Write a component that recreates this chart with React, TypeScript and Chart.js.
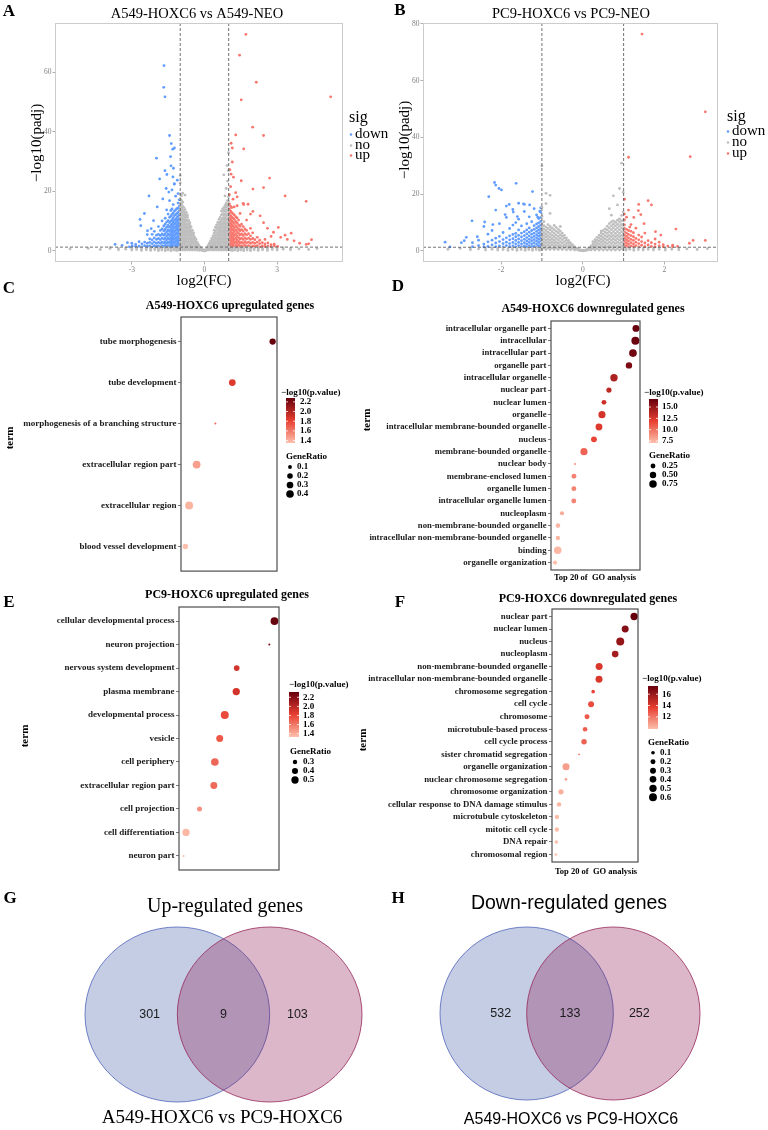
import React, { useEffect, useRef } from "react";
import { Chart, registerables } from "chart.js";

Chart.register(...registerables);

const SERIF = "'Liberation Serif', 'Times New Roman', serif";
const SANS = "'Liberation Sans', Arial, sans-serif";

const COL_DOWN = "#619CFF";
const COL_NO = "#BEBEBE";
const COL_UP = "#F8766D";

const fcCutoffs = [-1, 1];
const padjCutoff = 1.3;
const sigLevels = ["down", "no", "up"];

// ---------------- Panel A (volcano) ----------------
const aTitle = "A549-HOXC6 vs A549-NEO";
const aXTicks = [-3, 0, 3];
const aYTicks = [0, 20, 40, 60];
// columns: [log2FC, -log10(padj) values...]
const aNoCols = [
  [-1.0, 0.4, 1.6, 2.8, 4.0, 5.2, 6.4, 7.6, 8.8, 10.0, 11.2, 12.4, 13.6, 14.8, 16.1, 17.6, 19.2, 22.9, 25.4],
  [-0.95, 1.0, 2.2, 3.4, 4.6, 5.8, 7.0, 8.2, 9.4, 10.6, 11.8, 13.0, 14.3, 15.7, 17.0, 18.6],
  [-0.9, 0.3, 1.5, 2.7, 3.9, 5.1, 6.3, 7.5, 8.7, 9.9, 11.1, 12.4, 13.7, 15.0, 16.4, 19.4],
  [-0.85, 0.9, 2.1, 3.3, 4.5, 5.7, 6.9, 8.1, 9.3, 10.5, 11.8, 13.1, 14.6],
  [-0.8, 0.3, 1.5, 2.7, 3.9, 5.1, 6.3, 7.5, 8.7, 9.9, 11.2, 12.5, 13.9, 18.8],
  [-0.75, 0.8, 2.0, 3.2, 4.4, 5.6, 6.8, 8.0, 9.2, 10.5, 11.8, 13.0],
  [-0.7, 0.3, 1.5, 2.7, 3.9, 5.1, 6.3, 7.5, 8.7, 10.0, 11.3, 12.1],
  [-0.65, 0.8, 2.0, 3.2, 4.4, 5.6, 6.8, 8.0, 9.2, 10.4],
  [-0.6, 0.3, 1.5, 2.7, 3.9, 5.1, 6.3, 7.5, 8.6, 9.5],
  [-0.55, 0.8, 2.0, 3.2, 4.4, 5.6, 6.8, 8.1],
  [-0.5, 0.3, 1.4, 2.6, 3.8, 5.0, 6.2, 7.0],
  [-0.45, 0.8, 1.9, 3.1, 4.3, 5.4, 6.1],
  [-0.4, 0.3, 1.4, 2.5, 3.6, 4.6],
  [-0.35, 0.8, 1.9, 3.0, 3.9],
  [-0.3, 0.3, 1.3, 2.3, 3.0],
  [-0.25, 0.7, 1.6, 2.2],
  [-0.2, 0.2, 1.0, 1.5],
  [-0.15, 0.5, 1.0],
  [-0.1, 0.2, 0.6],
  [-0.05, 0.1, 0.4],
  [0.0, 0.0, 0.3],
  [0.05, 0.1, 0.4],
  [0.1, 0.3, 0.8],
  [0.15, 0.5, 1.3, 1.8],
  [0.2, 0.3, 1.1, 1.9, 2.6],
  [0.25, 0.7, 1.6, 2.5, 3.4],
  [0.3, 0.3, 1.2, 2.1, 3.1, 4.2],
  [0.35, 0.8, 1.8, 2.8, 3.9, 5.1],
  [0.4, 0.3, 1.3, 2.4, 3.5, 4.7, 6.0, 7.0],
  [0.45, 0.8, 1.9, 3.0, 4.2, 5.4, 6.7, 8.0],
  [0.5, 0.3, 1.4, 2.6, 3.8, 5.0, 6.2, 7.5, 8.8],
  [0.55, 0.8, 2.0, 3.2, 4.4, 5.6, 6.9, 8.2, 9.6],
  [0.6, 0.3, 1.5, 2.7, 3.9, 5.1, 6.4, 7.7, 9.0, 10.6],
  [0.65, 0.8, 2.0, 3.2, 4.4, 5.7, 7.0, 8.3, 9.7, 11.3],
  [0.7, 0.3, 1.5, 2.7, 3.9, 5.1, 6.4, 7.7, 9.0, 10.4, 12.1, 13.4],
  [0.75, 0.8, 2.0, 3.2, 4.4, 5.7, 7.0, 8.3, 9.6, 11.0, 12.5, 14.1],
  [0.8, 0.3, 1.5, 2.7, 3.9, 5.1, 6.4, 7.7, 9.0, 10.4, 11.8, 13.3, 14.6, 25.6],
  [0.85, 0.8, 2.0, 3.2, 4.4, 5.7, 7.0, 8.3, 9.6, 11.0, 12.4, 13.9, 15.3, 18.5],
  [0.9, 0.3, 1.5, 2.7, 3.9, 5.1, 6.4, 7.7, 9.0, 10.4, 11.8, 13.2, 14.7, 16.0, 21.0],
  [0.93, 28.7],
  [0.95, 0.8, 2.0, 3.2, 4.4, 5.7, 7.0, 8.3, 9.6, 11.0, 12.4, 13.9, 15.4, 16.9, 23.5],
  [0.99, 0.4, 1.6, 2.8, 4.0, 5.3, 6.6, 7.9, 9.2, 10.6, 12.0, 13.5, 15.0, 16.6, 18.2, 27.0, 33.0],
  [-5.55, 0.7], [-4.8, 0.9], [-4.3, 0.5], [-3.9, 0.8, 1.1], [-3.55, 0.4, 0.9], [-3.25, 0.6, 1.0],
  [-3.0, 0.3, 0.8], [-2.8, 0.5, 1.0], [-2.6, 0.2, 0.7, 1.1], [-2.4, 0.4, 0.9], [-2.22, 0.2, 0.6, 1.1],
  [-2.05, 0.4, 0.9], [-1.9, 0.1, 0.6, 1.0], [-1.76, 0.3, 0.8, 1.2], [-1.62, 0.1, 0.5, 1.0],
  [-1.5, 0.3, 0.7, 1.1], [-1.38, 0.1, 0.5, 0.9], [-1.26, 0.3, 0.7, 1.1], [-1.15, 0.1, 0.5, 0.9],
  [-1.06, 0.3, 0.7, 1.1], [1.06, 0.3, 0.7, 1.1], [1.15, 0.1, 0.5, 0.9], [1.26, 0.3, 0.7, 1.1],
  [1.38, 0.1, 0.5, 0.9], [1.5, 0.3, 0.7, 1.1], [1.62, 0.1, 0.5, 1.0], [1.76, 0.3, 0.8, 1.2],
  [1.9, 0.1, 0.6, 1.0], [2.05, 0.4, 0.9], [2.22, 0.2, 0.6, 1.1], [2.4, 0.4, 0.9], [2.6, 0.2, 0.7, 1.1],
  [2.8, 0.5, 1.0], [3.0, 0.3, 0.8], [3.25, 0.6, 1.0], [3.55, 0.4, 0.9], [3.9, 0.7], [4.3, 0.5], [4.65, 0.8],
];
const aDownCols = [
  [-1.04, 1.5, 2.6, 3.7, 4.9, 6.0, 7.2, 8.4, 9.6, 10.8, 12.1, 13.5, 15.0, 17.2],
  [-1.09, 1.9, 3.1, 4.3, 5.5, 6.7, 7.9, 9.1, 10.4, 11.6, 13.0, 14.4, 16.1, 19.3],
  [-1.14, 1.4, 2.5, 3.6, 4.8, 6.1, 7.3, 8.6, 9.9, 11.2, 12.6, 14.2],
  [-1.19, 2.0, 3.2, 4.4, 5.7, 6.9, 8.1, 9.4, 10.7, 12.2, 13.8, 18.4],
  [-1.24, 1.5, 2.7, 3.9, 5.1, 6.4, 7.7, 9.0, 10.3, 11.9, 13.4, 22.5],
  [-1.29, 1.9, 3.1, 4.3, 5.6, 6.9, 8.3, 9.7, 11.2, 12.8, 15.6],
  [-1.34, 1.4, 2.6, 3.8, 5.0, 6.3, 7.6, 9.0, 10.5, 12.3, 14.1, 20.5],
  [-1.39, 2.0, 3.2, 4.4, 5.8, 7.1, 8.5, 10.0, 11.7, 13.6],
  [-1.44, 1.5, 2.7, 3.9, 5.2, 6.6, 8.0, 9.5, 11.3, 16.9],
  [-1.5, 1.8, 3.0, 4.3, 5.7, 7.1, 8.6, 10.2, 12.4],
  [-1.56, 1.4, 2.6, 3.8, 5.1, 6.5, 8.0, 9.7, 13.8],
  [-1.62, 1.9, 3.1, 4.4, 5.8, 7.3, 9.0, 11.0],
  [-1.68, 1.5, 2.7, 4.0, 5.3, 6.8, 8.4],
  [-1.75, 1.8, 3.0, 4.3, 5.7, 7.4, 10.1],
  [-1.82, 1.4, 2.6, 3.8, 5.2, 6.9],
  [-1.9, 1.7, 2.9, 4.2, 5.6, 8.2],
  [-1.98, 1.5, 2.6, 3.9, 5.3],
  [-2.07, 1.8, 3.0, 4.4, 6.6],
  [-2.16, 1.4, 2.5, 3.7, 5.6],
  [-2.26, 1.7, 2.9, 4.1],
  [-2.36, 1.5, 2.6, 5.5],
  [-2.47, 1.8, 3.0],
  [-2.58, 1.4, 2.4],
  [-2.7, 1.6, 3.1],
  [-2.84, 1.5, 2.2],
  [-2.98, 1.7],
  [-3.1, 1.4],
];
const aDownPoints = [
  [-1.67, 62.3], [-1.68, 55.0], [-1.63, 51.8], [-1.44, 38.8], [-1.37, 36.1], [-1.31, 34.2], [-1.24, 34.6],
  [-1.98, 31.2], [-1.4, 31.7], [-1.38, 28.6], [-1.63, 27.0], [-1.28, 27.8], [-1.55, 25.7], [-1.3, 24.9],
  [-1.85, 24.2], [-1.25, 22.5], [-1.47, 19.8], [-2.29, 18.5], [-2.48, 12.6], [-2.66, 10.6], [-2.63, 8.5],
  [-3.18, 2.8], [-3.69, 2.2], [-2.2, 7.5], [-1.72, 17.5], [-1.58, 21.0], [-1.12, 23.8], [-1.95, 14.8],
  [-2.1, 10.2], [-2.35, 6.8], [-3.0, 2.6], [-3.4, 1.9],
];
const aUpCols = [
  [1.03, 1.5, 2.6, 3.8, 5.0, 6.2, 7.4, 8.6, 9.9, 11.2, 12.6, 14.1, 15.8, 18.9],
  [1.08, 1.9, 3.1, 4.3, 5.5, 6.7, 8.0, 9.3, 10.6, 11.9, 13.4, 15.0, 21.6],
  [1.13, 1.4, 2.5, 3.7, 4.9, 6.1, 7.4, 8.7, 10.0, 11.4, 12.9, 14.6],
  [1.18, 2.0, 3.2, 4.4, 5.7, 7.0, 8.3, 9.6, 11.0, 12.5, 17.4],
  [1.23, 1.5, 2.7, 3.9, 5.2, 6.5, 7.8, 9.2, 10.6, 12.1, 14.8],
  [1.29, 1.9, 3.1, 4.4, 5.7, 7.1, 8.5, 9.9, 11.5, 19.6],
  [1.35, 1.4, 2.6, 3.8, 5.1, 6.5, 7.9, 9.4, 11.1, 15.2],
  [1.41, 2.0, 3.2, 4.5, 5.9, 7.3, 8.8, 10.4],
  [1.47, 1.5, 2.7, 4.0, 5.4, 6.8, 8.3, 12.6],
  [1.53, 1.8, 3.0, 4.3, 5.7, 7.2, 9.0],
  [1.6, 1.4, 2.6, 3.9, 5.2, 6.7, 8.2, 16.0],
  [1.67, 1.9, 3.1, 4.4, 5.8, 7.4],
  [1.74, 1.5, 2.7, 4.0, 5.4, 6.9, 10.4],
  [1.82, 1.8, 3.0, 4.3, 5.8],
  [1.9, 1.4, 2.6, 3.9, 5.1, 7.6],
  [1.99, 1.7, 2.9, 4.2, 6.1],
  [2.08, 1.5, 2.6, 3.8],
  [2.18, 1.8, 3.0, 4.6],
  [2.28, 1.4, 2.5, 3.6],
  [2.39, 1.7, 2.8],
  [2.5, 1.5, 2.4, 3.9],
  [2.62, 1.6, 2.7],
  [2.75, 1.4, 2.1],
  [2.88, 1.7, 2.3],
  [3.02, 1.5],
];
const aUpPoints = [
  [1.71, 72.8], [1.45, 65.8], [2.14, 56.7], [1.52, 50.8], [5.21, 51.8], [1.99, 41.6], [2.44, 38.8],
  [1.29, 39.0], [1.1, 36.2], [1.15, 34.6], [1.62, 34.3], [1.15, 29.9], [1.05, 27.3], [1.1, 25.8],
  [1.2, 24.8], [1.52, 23.6], [2.69, 24.5], [2.0, 20.8], [2.44, 21.3], [3.33, 18.5], [4.2, 16.7],
  [2.0, 13.3], [2.44, 9.5], [2.85, 6.3], [3.33, 5.3], [3.58, 6.0], [3.7, 3.4], [3.93, 2.6], [4.2, 2.2],
  [4.42, 3.8], [4.3, 2.4], [3.42, 3.9], [3.15, 4.6], [1.35, 18.2], [1.62, 15.6], [1.8, 15.7],
  [2.3, 11.8], [2.6, 7.6], [1.9, 12.4], [3.05, 7.9], [2.75, 4.9],
];

// ---------------- Panel B (volcano) ----------------
const bTitle = "PC9-HOXC6 vs PC9-NEO";
const bXTicks = [-2, 0, 2];
const bYTicks = [0, 20, 40, 60, 80];
const bNoCols = [
  [-1.0, 0.5, 1.6, 2.7, 3.8, 4.9, 6.0, 7.1, 8.3, 9.6, 12.2, 15.4, 30.0],
  [-0.95, 1.0, 2.1, 3.2, 4.3, 5.4, 6.5, 7.7, 8.9, 10.3],
  [-0.9, 0.5, 1.6, 2.7, 3.8, 4.9, 6.0, 7.2, 8.4, 16.7, 20.3],
  [-0.85, 1.0, 2.1, 3.2, 4.3, 5.4, 6.6, 7.9, 9.3],
  [-0.8, 0.5, 1.6, 2.7, 3.8, 4.9, 6.1, 7.4, 8.6, 13.2, 19.6],
  [-0.75, 1.0, 2.1, 3.2, 4.3, 5.5, 6.8, 8.0],
  [-0.7, 0.5, 1.6, 2.7, 3.8, 5.0, 6.2, 7.5, 9.0],
  [-0.65, 1.0, 2.1, 3.2, 4.4, 5.6, 6.9, 8.3],
  [-0.6, 0.5, 1.6, 2.7, 3.9, 5.1, 6.4, 7.6],
  [-0.55, 1.0, 2.1, 3.3, 4.5, 5.7, 7.0, 8.6],
  [-0.5, 0.5, 1.6, 2.8, 4.0, 5.2, 6.3],
  [-0.45, 1.0, 2.1, 3.3, 4.5, 5.5],
  [-0.4, 0.4, 1.5, 2.6, 3.7, 4.6],
  [-0.35, 0.9, 1.9, 2.9, 3.7],
  [-0.3, 0.4, 1.3, 2.2, 2.9],
  [-0.25, 0.8, 1.6, 2.2],
  [-0.2, 0.3, 1.0, 1.5],
  [-0.15, 0.6, 1.0],
  [-0.1, 0.2, 0.6],
  [-0.05, 0.1, 0.4],
  [0.0, 0.0, 0.3],
  [0.05, 0.1, 0.3],
  [0.1, 0.2, 0.6],
  [0.15, 0.5, 1.1],
  [0.2, 0.3, 1.0, 1.8],
  [0.25, 0.7, 1.6, 2.5, 3.3],
  [0.3, 0.3, 1.2, 2.2, 3.2, 4.0],
  [0.35, 0.8, 1.8, 2.8, 3.8, 4.8],
  [0.4, 0.3, 1.3, 2.4, 3.5, 4.6, 5.6],
  [0.45, 0.8, 1.9, 3.0, 4.1, 5.2, 6.3, 7.0],
  [0.5, 0.3, 1.4, 2.5, 3.6, 4.7, 5.9, 7.2],
  [0.55, 0.8, 1.9, 3.0, 4.2, 5.4, 6.6, 7.8],
  [0.6, 0.3, 1.4, 2.6, 3.8, 5.0, 6.2, 7.4, 8.7],
  [0.65, 0.8, 1.9, 3.1, 4.3, 5.5, 6.8, 8.1, 9.6, 14.9],
  [0.7, 0.3, 1.4, 2.6, 3.8, 5.0, 6.2, 7.5, 8.8, 10.2, 12.6],
  [0.75, 0.8, 1.9, 3.1, 4.3, 5.5, 6.8, 8.1, 9.4, 10.6, 19.4],
  [0.8, 0.3, 1.4, 2.6, 3.8, 5.0, 6.2, 7.5, 8.8, 10.1],
  [0.85, 0.8, 1.9, 3.1, 4.3, 5.5, 6.8, 8.1, 9.4, 10.8, 16.2],
  [0.9, 0.3, 1.4, 2.6, 3.8, 5.0, 6.2, 7.5, 8.8, 10.2, 11.3, 22.0],
  [0.95, 0.8, 1.9, 3.1, 4.3, 5.5, 6.8, 8.1, 9.4, 10.7, 12.5, 30.9],
  [0.99, 0.4, 1.5, 2.7, 3.9, 5.1, 6.4, 7.7, 9.0, 10.6, 13.7, 20.7],
  [-3.3, 0.6], [-3.0, 0.9], [-2.75, 0.4, 1.0], [-2.55, 0.7], [-2.38, 0.3, 1.0], [-2.22, 0.6, 1.1],
  [-2.08, 0.3, 0.9], [-1.95, 0.5, 1.1], [-1.83, 0.2, 0.8], [-1.72, 0.5, 1.1], [-1.61, 0.2, 0.8],
  [-1.51, 0.5, 1.1], [-1.41, 0.2, 0.8], [-1.32, 0.5, 1.1], [-1.23, 0.2, 0.8], [-1.14, 0.5, 1.1],
  [-1.06, 0.2, 0.8], [1.06, 0.3, 0.9], [1.15, 0.6, 1.1], [1.25, 0.2, 0.8], [1.36, 0.5, 1.1],
  [1.48, 0.3, 0.9], [1.6, 0.6, 1.1], [1.73, 0.3, 0.9], [1.87, 0.6, 1.1], [2.02, 0.3, 0.9], [2.18, 0.6],
  [2.35, 0.4, 1.0], [2.55, 0.7], [2.8, 0.5], [3.05, 0.8],
];
const bDownCols = [
  [-1.03, 1.5, 2.5, 3.6, 4.6, 5.7, 6.8, 7.9, 9.1, 10.4, 11.8, 13.6, 15.2],
  [-1.08, 1.9, 3.0, 4.1, 5.2, 6.3, 7.4, 8.6, 9.9, 11.4],
  [-1.13, 1.4, 2.4, 3.5, 4.6, 5.7, 6.9, 8.1, 9.5, 12.7],
  [-1.19, 1.8, 2.9, 4.0, 5.1, 6.3, 7.6, 8.9, 14.9],
  [-1.25, 1.5, 2.5, 3.6, 4.7, 5.9, 7.2, 10.3],
  [-1.31, 1.9, 3.0, 4.1, 5.3, 6.6, 8.1, 12.0],
  [-1.37, 1.4, 2.4, 3.5, 4.7, 6.0, 7.4, 9.6],
  [-1.43, 1.8, 2.9, 4.1, 5.4, 6.8, 13.9, 16.4],
  [-1.5, 1.5, 2.5, 3.6, 4.9, 6.3, 8.8],
  [-1.57, 1.9, 3.0, 4.2, 5.5, 7.4, 11.2, 16.8],
  [-1.64, 1.4, 2.5, 3.7, 5.0, 6.2, 10.0],
  [-1.71, 1.8, 3.0, 4.3, 5.8, 9.1, 14.6],
  [-1.79, 1.5, 2.6, 3.9, 5.3, 7.9],
  [-1.87, 1.9, 3.1, 4.6, 11.8, 15.8],
  [-1.95, 1.4, 2.6, 4.0, 6.5],
  [-2.04, 1.8, 3.3, 5.1, 9.6],
  [-2.13, 1.5, 2.8, 4.5, 14.4],
  [-2.22, 2.1, 3.8, 7.2],
  [-2.32, 1.6, 3.2, 5.9],
  [-2.42, 1.4, 2.4, 8.6],
  [-2.55, 1.9, 3.8],
  [-2.7, 1.5, 2.9],
  [-2.85, 4.8],
  [-2.97, 2.9],
];
const bDownPoints = [
  [-2.16, 24.1], [-2.13, 23.2], [-1.63, 23.8], [-2.05, 22.0], [-1.99, 21.5], [-2.3, 19.1], [-1.23, 20.9],
  [-2.71, 10.6], [-3.37, 3.1], [-3.25, 1.4], [-2.4, 10.2], [-2.2, 9.3], [-1.45, 16.6], [-1.3, 16.2],
  [-1.8, 16.4], [-1.7, 13.7], [-1.05, 14.0], [-1.1, 11.9], [-2.58, 5.0], [-2.9, 3.6], [-1.9, 12.8], [-1.6, 12.1],
];
const bUpCols = [
  [1.02, 1.5, 2.5, 3.5, 4.5, 5.6, 6.7, 7.9, 9.2, 10.9, 13.0, 18.2],
  [1.07, 1.9, 2.9, 4.0, 5.1, 6.3, 7.6, 11.9],
  [1.12, 1.4, 2.4, 3.5, 4.6, 5.8, 7.2, 14.4],
  [1.18, 1.8, 2.9, 4.1, 5.4, 6.9, 9.3],
  [1.24, 1.5, 2.5, 3.7, 5.0, 6.4],
  [1.3, 1.9, 3.1, 4.4, 8.0],
  [1.37, 1.4, 2.6, 3.9, 5.6, 16.4],
  [1.44, 2.0, 3.3, 4.9],
  [1.52, 1.5, 2.8, 6.3],
  [1.6, 2.1, 3.6, 17.7],
  [1.68, 1.6, 2.9, 16.2],
  [1.77, 1.4, 2.4, 4.2],
  [1.87, 1.8, 3.1],
  [1.97, 1.5, 2.2],
  [2.08, 1.7],
  [2.2, 1.5, 2.0],
  [2.32, 1.6],
];
const bUpPoints = [
  [1.45, 76.4], [3.0, 49.0], [2.63, 33.2], [1.12, 33.0], [1.36, 14.2], [1.91, 5.6], [2.28, 7.7],
  [2.61, 2.7], [2.7, 3.7], [3.0, 3.7], [1.25, 11.8], [1.5, 9.6], [1.15, 8.4], [1.78, 6.8], [1.42, 12.8],
];

// ---------------- Panel C ----------------
const cTitle = "A549-HOXC6 upregulated genes";
const cTerms = [
  "tube morphogenesis",
  "tube development",
  "morphogenesis of a branching structure",
  "extracellular region part",
  "extracellular region",
  "blood vessel development",
];
const cLogP = [2.28, 1.85, 1.67, 1.47, 1.39, 1.35];
const cRatio = [0.26, 0.3, 0.06, 0.42, 0.45, 0.19];
const cColorTicks = [1.4, 1.6, 1.8, 2.0, 2.2];
const cSizeTicks = [0.1, 0.2, 0.3, 0.4];

// ---------------- Panel D ----------------
const dTitle = "A549-HOXC6 downregulated genes";
const dTerms = [
  "intracellular organelle part",
  "intracellular",
  "intracellular part",
  "organelle part",
  "intracellular organelle",
  "nuclear part",
  "nuclear lumen",
  "organelle",
  "intracellular membrane-bounded organelle",
  "nucleus",
  "membrane-bounded organelle",
  "nuclear body",
  "membrane-enclosed lumen",
  "organelle lumen",
  "intracellular organelle lumen",
  "nucleoplasm",
  "non-membrane-bounded organelle",
  "intracellular non-membrane-bounded organelle",
  "binding",
  "organelle organization",
];
const dLogP = [16.77, 16.7, 16.41, 15.93, 14.13, 13.53, 12.93, 12.69, 12.33, 11.73, 10.53, 9.45, 9.33, 9.32, 9.31, 7.89, 7.41, 7.4, 7.38, 7.06];
const dRatio = [0.62, 0.88, 0.8, 0.5, 0.72, 0.3, 0.25, 0.66, 0.6, 0.4, 0.66, 0.04, 0.25, 0.25, 0.25, 0.16, 0.2, 0.19, 0.75, 0.17];
const dColorTicks = [7.5, 10.0, 12.5, 15.0];
const dSizeTicks = [0.25, 0.5, 0.75];

// ---------------- Panel E ----------------
const eTitle = "PC9-HOXC6 upregulated genes";
const eTerms = [
  "cellular developmental process",
  "neuron projection",
  "nervous system development",
  "plasma membrane",
  "developmental process",
  "vesicle",
  "cell periphery",
  "extracellular region part",
  "cell projection",
  "cell differentiation",
  "neuron part",
];
const eLogP = [2.316, 2.26, 1.905, 1.9, 1.775, 1.72, 1.667, 1.656, 1.5, 1.353, 1.326];
const eRatio = [0.55, 0.25, 0.37, 0.5, 0.57, 0.47, 0.53, 0.47, 0.33, 0.5, 0.25];
const eColorTicks = [1.4, 1.6, 1.8, 2.0, 2.2];
const eSizeTicks = [0.3, 0.4, 0.5];

// ---------------- Panel F ----------------
const fTitle = "PC9-HOXC6 downregulated genes";
const fTerms = [
  "nuclear part",
  "nuclear lumen",
  "nucleus",
  "nucleoplasm",
  "non-membrane-bounded organelle",
  "intracellular non-membrane-bounded organelle",
  "chromosome segregation",
  "cell cycle",
  "chromosome",
  "microtubule-based process",
  "cell cycle process",
  "sister chromatid segregation",
  "organelle organization",
  "nuclear chromosome segregation",
  "chromosome organization",
  "cellular response to DNA damage stimulus",
  "microtubule cytoskeleton",
  "mitotic cell cycle",
  "DNA repair",
  "chromosomal region",
];
const fLogP = [17.44, 16.58, 16.1, 15.61, 14.06, 14.05, 13.48, 13.28, 12.89, 12.7, 12.6, 12.12, 10.86, 10.85, 10.37, 10.18, 9.98, 9.97, 9.92, 9.88];
const fRatio = [0.5, 0.45, 0.62, 0.4, 0.45, 0.45, 0.1, 0.3, 0.2, 0.17, 0.25, 0.05, 0.45, 0.06, 0.22, 0.15, 0.15, 0.15, 0.1, 0.06];
const fColorTicks = [12, 14, 16];
const fSizeTicks = [0.1, 0.2, 0.3, 0.4, 0.5, 0.6];

// ---------------- Panels G, H (Venn) ----------------
const gTitle = "Up-regulated genes";
const gCounts = [301, 9, 103];
const hTitle = "Down-regulated genes";
const hCounts = [532, 133, 252];
const vennCaption = "A549-HOXC6 vs PC9-HOXC6";

// ================= helpers =================
const cols2pts = (cols: number[][]) => cols.flatMap(([x, ...ys]) => ys.map((y) => ({ x, y })));
const pairs2pts = (pairs: number[][]) => pairs.map(([x, y]) => ({ x, y }));

type Txt = { t: string; x: number; y: number; font: string; color?: string; align?: CanvasTextAlign; rot?: number };
const T = (t: string, x: number, y: number, font: string, extra: Partial<Txt> = {}): Txt => ({ t, x, y, font, ...extra });

function drawTexts(ctx: CanvasRenderingContext2D, list: Txt[]) {
  for (const it of list) {
    ctx.save();
    ctx.font = it.font;
    ctx.fillStyle = it.color || "#000";
    ctx.textAlign = it.align || "center";
    ctx.textBaseline = "middle";
    ctx.translate(it.x, it.y);
    if (it.rot) ctx.rotate(it.rot);
    ctx.fillText(it.t, 0, 0);
    ctx.restore();
  }
}

const redStops = [
  [252, 192, 172],
  [232, 62, 48],
  [103, 0, 13],
];
function redScale(t: number) {
  const u = Math.max(0, Math.min(1, t));
  const [a, b, k] = u < 0.5 ? [redStops[0], redStops[1], u * 2] : [redStops[1], redStops[2], (u - 0.5) * 2];
  const c = (a as number[]).map((v, i) => Math.round(v + ((b as number[])[i] - v) * (k as number)));
  return `rgb(${c[0]},${c[1]},${c[2]})`;
}

// ================= volcano =================
function volcanoConfig(s: any, w: number, h: number) {
  const ds = (data: any[], color: string) => ({
    data,
    pointRadius: 1.4,
    pointHoverRadius: 1.4,
    pointBackgroundColor: color,
    pointBorderWidth: 0,
    showLine: false,
  });
  const tickStyle = {
    autoSkip: false,
    maxRotation: 0,
    padding: 1,
    color: "#808080",
    font: { family: "Liberation Serif", size: 7.5 },
  };
  const grid = { drawOnChartArea: false, drawTicks: true, tickLength: 2.5, tickColor: "#9a9a9a", tickWidth: 0.8 };
  const decor = {
    id: "volcanoDecor",
    afterDatasetsDraw(chart: any) {
      const { ctx, chartArea: ca, scales } = chart;
      ctx.save();
      ctx.strokeStyle = "#4d4d4d";
      ctx.lineWidth = 0.8;
      ctx.setLineDash([3, 2]);
      for (const v of fcCutoffs) {
        const px = scales.x.getPixelForValue(v);
        ctx.beginPath();
        ctx.moveTo(px, ca.top);
        ctx.lineTo(px, ca.bottom);
        ctx.stroke();
      }
      const py = scales.y.getPixelForValue(padjCutoff);
      ctx.beginPath();
      ctx.moveTo(ca.left, py);
      ctx.lineTo(ca.right, py);
      ctx.stroke();
      ctx.setLineDash([]);
      ctx.strokeStyle = "#cccccc";
      ctx.lineWidth = 1;
      ctx.strokeRect(ca.left + 0.5, ca.top + 0.5, ca.width - 1, ca.height - 1);
      // legend
      const L = s.legend;
      drawTexts(ctx, [T("sig", L.x, L.ys[0], `16px ${SERIF}`, { align: "left" })]);
      const cols = [COL_DOWN, COL_NO, COL_UP];
      sigLevels.forEach((lv, i) => {
        ctx.fillStyle = cols[i];
        ctx.beginPath();
        ctx.arc(L.dotX, L.ys[i + 1] + 0.5, 1.3, 0, Math.PI * 2);
        ctx.fill();
        drawTexts(ctx, [T(lv, L.textX, L.ys[i + 1], `15px ${SERIF}`, { align: "left" })]);
      });
      drawTexts(ctx, s.texts);
      ctx.restore();
    },
  };
  return {
    type: "scatter",
    data: {
      datasets: [ds(s.no, COL_NO), ds(s.down, COL_DOWN), ds(s.up, COL_UP)],
    },
    options: {
      animation: false,
      responsive: false,
      events: [],
      layout: { padding: { left: 0, top: s.area.t, right: w - s.area.r, bottom: 0 } },
      plugins: { legend: { display: false }, tooltip: { enabled: false }, title: { display: false } },
      scales: {
        x: {
          type: "linear",
          min: s.xr[0],
          max: s.xr[1],
          afterBuildTicks: (sc: any) => {
            sc.ticks = s.xt.map((v: number) => ({ value: v }));
          },
          afterFit: (sc: any) => {
            sc.height = h - s.area.b;
          },
          ticks: tickStyle,
          grid,
          border: { display: false },
        },
        y: {
          type: "linear",
          min: s.yr[0],
          max: s.yr[1],
          afterBuildTicks: (sc: any) => {
            sc.ticks = s.yt.map((v: number) => ({ value: v }));
          },
          afterFit: (sc: any) => {
            sc.width = s.area.l;
          },
          ticks: tickStyle,
          grid,
          border: { display: false },
        },
      },
    },
    plugins: [decor],
  };
}

// ================= GO dot plot =================
function dotConfig(s: any, w: number, h: number) {
  const n = s.terms.length;
  const lo = Math.min(...s.logP);
  const hi = Math.max(...s.logP);
  const pad = (hi - lo) * 0.05;
  const rlo = Math.min(...s.ratio);
  const rhi = Math.max(...s.ratio);
  const rad = (v: number) => s.r0 + (s.r1 - s.r0) * Math.sqrt(Math.max(0, Math.min(1, (v - rlo) / (rhi - rlo))));
  const col = (v: number) => redScale((v - lo) / (hi - lo));
  const pts = s.terms.map((_: string, i: number) => ({ x: s.logP[i], y: i }));
  const decor = {
    id: "dotDecor",
    afterDraw(chart: any) {
      const { ctx, chartArea: ca } = chart;
      ctx.save();
      ctx.strokeStyle = "#4d4d4d";
      ctx.lineWidth = 1.2;
      ctx.strokeRect(ca.left, ca.top, ca.width, ca.height);
      const bold = `bold ${s.lfs}px ${SERIF}`;
      // colour bar
      const cb = s.cb;
      const g = ctx.createLinearGradient(0, cb.top, 0, cb.bottom);
      for (let k = 0; k <= 20; k++) g.addColorStop(k / 20, redScale(1 - k / 20));
      ctx.fillStyle = g;
      ctx.fillRect(cb.x, cb.top, cb.w, cb.bottom - cb.top);
      drawTexts(ctx, [T("\u2212log10(p.value)", cb.titleX, cb.titleY, bold, { align: "left" })]);
      for (const v of s.cTicks) {
        const y = cb.bottom - ((v - lo) / (hi - lo)) * (cb.bottom - cb.top);
        ctx.strokeStyle = "#ffffff";
        ctx.lineWidth = 0.8;
        ctx.beginPath();
        ctx.moveTo(cb.x, y);
        ctx.lineTo(cb.x + 2, y);
        ctx.moveTo(cb.x + cb.w - 2, y);
        ctx.lineTo(cb.x + cb.w, y);
        ctx.stroke();
        drawTexts(ctx, [T(v.toFixed(cb.digits), cb.labelX, y, bold, { align: "left" })]);
      }
      // size legend
      const gr = s.gr;
      drawTexts(ctx, [T("GeneRatio", gr.titleX, gr.titleY, bold, { align: "left" })]);
      s.sTicks.forEach((v: number, i: number) => {
        ctx.fillStyle = "#000";
        ctx.beginPath();
        ctx.arc(gr.dotX, gr.ys[i], rad(v), 0, Math.PI * 2);
        ctx.fill();
        drawTexts(ctx, [T(v.toFixed(gr.digits), gr.textX, gr.ys[i], bold, { align: "left" })]);
      });
      drawTexts(ctx, s.texts);
      ctx.restore();
    },
  };
  return {
    type: "scatter",
    data: {
      datasets: [
        {
          data: pts,
          pointRadius: s.ratio.map(rad),
          pointHoverRadius: s.ratio.map(rad),
          pointBackgroundColor: s.logP.map(col),
          pointBorderWidth: 0,
          showLine: false,
        },
      ],
    },
    options: {
      animation: false,
      responsive: false,
      events: [],
      layout: { padding: { left: 0, top: s.area.t, right: w - s.area.r, bottom: h - s.area.b } },
      plugins: { legend: { display: false }, tooltip: { enabled: false }, title: { display: false } },
      scales: {
        x: { type: "linear", display: false, min: lo - pad, max: hi + pad },
        y: {
          type: "linear",
          reverse: true,
          min: -0.6,
          max: n - 0.4,
          afterBuildTicks: (sc: any) => {
            sc.ticks = s.terms.map((_: string, i: number) => ({ value: i }));
          },
          afterFit: (sc: any) => {
            sc.width = s.area.l;
          },
          ticks: {
            autoSkip: false,
            padding: 1.5,
            color: "#1a1a1a",
            font: { family: "Liberation Serif", size: s.fs, weight: "bold" },
            callback: (v: number) => s.terms[v],
          },
          grid: { drawOnChartArea: false, drawTicks: true, tickLength: 3, tickColor: "#555", tickWidth: 0.8 },
          border: { display: false },
        },
      },
    },
    plugins: [decor],
  };
}

// ================= Venn =================
const vennCircles = [
  { cx: -0.5, cy: 0, rx: 1, ry: 1, fill: "rgba(58,88,165,0.3)", stroke: "rgba(80,100,185,0.8)" },
  { cx: 0.5, cy: 0, rx: 1, ry: 1, fill: "rgba(135,18,75,0.3)", stroke: "rgba(150,40,90,0.8)" },
];
const vennLabelX = [-0.8, 0, 0.8];

function vennConfig(s: any, w: number, h: number) {
  const decor = {
    id: "vennDecor",
    afterDraw(chart: any) {
      const { ctx, scales } = chart;
      const X = scales.x;
      const Y = scales.y;
      ctx.save();
      for (const c of vennCircles) {
        const px = X.getPixelForValue(c.cx);
        const py = Y.getPixelForValue(c.cy);
        const rx = Math.abs(X.getPixelForValue(c.cx + c.rx) - px);
        const ry = Math.abs(Y.getPixelForValue(c.cy + c.ry) - py);
        ctx.beginPath();
        ctx.ellipse(px, py, rx, ry, 0, 0, Math.PI * 2);
        ctx.fillStyle = c.fill;
        ctx.fill();
        ctx.strokeStyle = c.stroke;
        ctx.lineWidth = 1;
        ctx.stroke();
      }
      s.counts.forEach((v: number, i: number) => {
        drawTexts(ctx, [
          T(String(v), X.getPixelForValue(vennLabelX[i]), Y.getPixelForValue(0), `12.5px ${SANS}`, { color: "#1a1a1a" }),
        ]);
      });
      drawTexts(ctx, s.texts);
      ctx.restore();
    },
  };
  return {
    type: "scatter",
    data: { datasets: [] },
    options: {
      animation: false,
      responsive: false,
      events: [],
      layout: { padding: { left: s.area.l, top: s.area.t, right: w - s.area.r, bottom: h - s.area.b } },
      plugins: { legend: { display: false }, tooltip: { enabled: false }, title: { display: false } },
      scales: {
        x: { type: "linear", display: false, min: -1.5, max: 1.5 },
        y: { type: "linear", display: false, min: -1, max: 1 },
      },
    },
    plugins: [decor],
  };
}

// ================= specs =================
const ROT = -Math.PI / 2;
const LETTER = `bold 17px ${SERIF}`;

const specA = {
  no: cols2pts(aNoCols),
  down: [...cols2pts(aDownCols), ...pairs2pts(aDownPoints)],
  up: [...cols2pts(aUpCols), ...pairs2pts(aUpPoints)],
  xr: [-6.17, 5.72],
  yr: [-3.7, 76.6],
  xt: aXTicks,
  yt: aYTicks,
  area: { l: 55, t: 23, r: 343, b: 262 },
  legend: { x: 349, dotX: 351, textX: 355, ys: [118, 134, 145, 155] },
  texts: [
    T("A", 9, 12, LETTER),
    T(aTitle, 197, 14, `14.5px ${SERIF}`),
    T("log2(FC)", 204, 281, `15px ${SERIF}`),
    T("\u2212log10(padj)", 37, 143, `15px ${SERIF}`, { rot: ROT }),
  ],
};

const specB = {
  no: cols2pts(bNoCols),
  down: [...cols2pts(bDownCols), ...pairs2pts(bDownPoints)],
  up: [...cols2pts(bUpCols), ...pairs2pts(bUpPoints)],
  xr: [-3.91, 3.31],
  yr: [-3.9, 80.3],
  xt: bXTicks,
  yt: bYTicks,
  area: { l: 39, t: 23, r: 334, b: 262 },
  legend: { x: 343, dotX: 344, textX: 348, ys: [117, 131, 142, 153] },
  texts: [
    T("B", 16, 11, LETTER),
    T(bTitle, 187, 14, `14.5px ${SERIF}`),
    T("log2(FC)", 199, 281, `15px ${SERIF}`),
    T("\u2212log10(padj)", 21, 140, `15px ${SERIF}`, { rot: ROT }),
  ],
};

const TITLE_FONT = `bold 12px ${SERIF}`;
const TERM_FONT = `bold 11px ${SERIF}`;
const GO_NOTE = "Top 20 of  GO analysis";
const GO_NOTE_FONT = `bold 8.5px ${SERIF}`;

const specC = {
  terms: cTerms, logP: cLogP, ratio: cRatio, cTicks: cColorTicks, sTicks: cSizeTicks,
  r0: 1.0, r1: 4.0, fs: 9, lfs: 9,
  area: { l: 181, t: 39, r: 277, b: 294 },
  cb: { x: 286, top: 120, bottom: 165, w: 9, labelX: 300, digits: 1, titleX: 281, titleY: 115 },
  gr: { titleX: 286, titleY: 179, dotX: 290, textX: 297, ys: [189, 198, 207, 216], digits: 1 },
  texts: [T("C", 9, 11, LETTER), T(cTitle, 230, 28, TITLE_FONT), T("term", 10, 160, TERM_FONT, { rot: ROT })],
};

const specD = {
  terms: dTerms, logP: dLogP, ratio: dRatio, cTicks: dColorTicks, sTicks: dSizeTicks,
  r0: 0.9, r1: 4.0, fs: 8.7, lfs: 9,
  area: { l: 201, t: 45, r: 290, b: 294 },
  cb: { x: 299, top: 123, bottom: 167, w: 9, labelX: 312, digits: 1, titleX: 294, titleY: 117 },
  gr: { titleX: 299, titleY: 180, dotX: 303, textX: 312, ys: [190, 199, 208], digits: 2 },
  texts: [
    T("D", 48, 11, LETTER),
    T(dTitle, 243, 33, TITLE_FONT),
    T("term", 17, 144, TERM_FONT, { rot: ROT }),
    T(GO_NOTE, 245, 302, GO_NOTE_FONT),
  ],
};

const specE = {
  terms: eTerms, logP: eLogP, ratio: eRatio, cTicks: eColorTicks, sTicks: eSizeTicks,
  r0: 1.0, r1: 4.0, fs: 9, lfs: 9,
  area: { l: 179, t: 29, r: 279, b: 292 },
  cb: { x: 289, top: 114, bottom: 159, w: 10, labelX: 303, digits: 1, titleX: 289, titleY: 107 },
  gr: { titleX: 290, titleY: 174, dotX: 295, textX: 303, ys: [184, 193, 202], digits: 1 },
  texts: [T("E", 9, 25, LETTER), T(eTitle, 227, 17, TITLE_FONT), T("term", 25, 158, TERM_FONT, { rot: ROT })],
};

const specF = {
  terms: fTerms, logP: fLogP, ratio: fRatio, cTicks: fColorTicks, sTicks: fSizeTicks,
  r0: 0.9, r1: 4.0, fs: 8.8, lfs: 9,
  area: { l: 202, t: 31, r: 288, b: 284 },
  cb: { x: 298, top: 108, bottom: 151, w: 10, labelX: 312, digits: 0, titleX: 292, titleY: 101 },
  gr: { titleX: 298, titleY: 165, dotX: 303, textX: 310, ys: [174.7, 183.7, 192.7, 201.3, 210.3, 219.3], digits: 1 },
  texts: [
    T("F", 50, 25, LETTER),
    T(fTitle, 238, 21, TITLE_FONT),
    T("term", 13, 162, TERM_FONT, { rot: ROT }),
    T(GO_NOTE, 246, 294, GO_NOTE_FONT),
  ],
};

const specG = {
  counts: gCounts,
  area: { l: 85, t: 47, r: 362, b: 222 },
  texts: [T("G", 10, 19, LETTER), T(gTitle, 225, 27, `20px ${SERIF}`), T(vennCaption, 222, 238, `19px ${SERIF}`)],
};

const specH = {
  counts: hCounts,
  area: { l: 56, t: 47, r: 316, b: 220 },
  texts: [T("H", 14, 19, LETTER), T(hTitle, 185, 24, `19.5px ${SANS}`), T(vennCaption, 187, 240, `16px ${SANS}`)],
};

// ================= components =================
function ChartPanel({ x, y, w, h, make }: { x: number; y: number; w: number; h: number; make: (w: number, h: number) => any }) {
  const ref = useRef<HTMLCanvasElement>(null);
  useEffect(() => {
    const chart = new Chart(ref.current as HTMLCanvasElement, make(w, h));
    return () => chart.destroy();
  }, []);
  return (
    <canvas
      ref={ref}
      width={w}
      height={h}
      style={{ position: "absolute", left: x, top: y, width: w, height: h }}
    />
  );
}

export default function App() {
  return (
    <div style={{ position: "absolute", left: 0, top: 0, width: 768, height: 1130, background: "#ffffff", overflow: "hidden" }}>
      <ChartPanel x={0} y={0} w={400} h={292} make={(w, h) => volcanoConfig(specA, w, h)} />
      <ChartPanel x={384} y={0} w={384} h={292} make={(w, h) => volcanoConfig(specB, w, h)} />
      <ChartPanel x={0} y={278} w={360} h={300} make={(w, h) => dotConfig(specC, w, h)} />
      <ChartPanel x={350} y={276} w={418} h={310} make={(w, h) => dotConfig(specD, w, h)} />
      <ChartPanel x={0} y={578} w={360} h={300} make={(w, h) => dotConfig(specE, w, h)} />
      <ChartPanel x={350} y={578} w={418} h={300} make={(w, h) => dotConfig(specF, w, h)} />
      <ChartPanel x={0} y={880} w={384} h={250} make={(w, h) => vennConfig(specG, w, h)} />
      <ChartPanel x={384} y={880} w={384} h={250} make={(w, h) => vennConfig(specH, w, h)} />
    </div>
  );
}
